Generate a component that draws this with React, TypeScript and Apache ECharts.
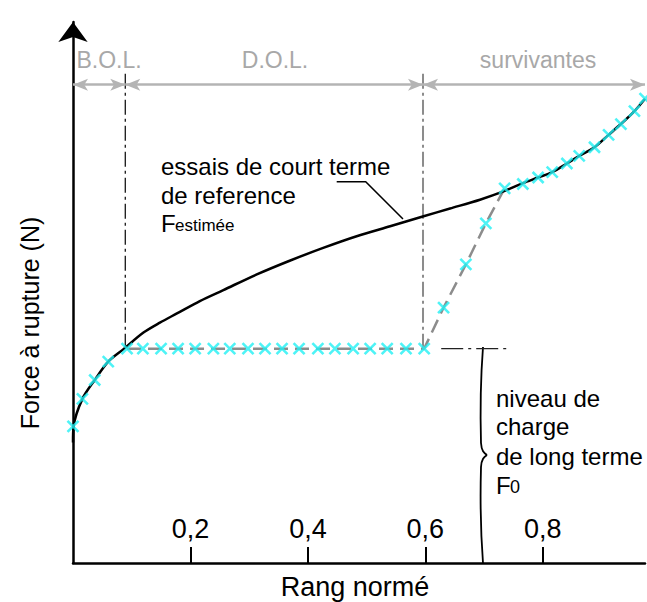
import React, { useEffect, useRef } from "react";
import * as echarts from "echarts";

// ---- data (x: rang normé, y: force, arbitrary units 0..100) ----
const xTickValues = [0.2, 0.4, 0.6, 0.8];

const refCurveX = [0, 0.001, 0.016, 0.037, 0.06, 0.087, 0.12, 0.148, 0.177, 0.216, 0.256, 0.313, 0.37, 0.426, 0.483, 0.54, 0.597, 0.642, 0.693, 0.733, 0.766, 0.792, 0.816, 0.841, 0.862, 0.888, 0.912, 0.933, 0.956, 0.974];
const refCurveY = [22.3, 25.3, 30.4, 33.9, 37.3, 39.7, 42.68, 44.52, 46.22, 48.52, 50.55, 53.45, 56.03, 58.36, 60.52, 62.36, 64.21, 65.65, 67.29, 68.82, 70.35, 71.4, 72.4, 74.0, 75.4, 77.0, 79.3, 81.3, 83.7, 86.0];

const bolX = [0.0, 0.016, 0.037, 0.06];
const bolY = [25.3, 30.4, 33.9, 37.3];

const dolX = [0.092, 0.119, 0.15, 0.179, 0.208, 0.239, 0.267, 0.298, 0.327, 0.356, 0.385, 0.417, 0.446, 0.477, 0.506, 0.535, 0.567, 0.598];
const dolY = [39.7, 39.7, 39.7, 39.7, 39.7, 39.7, 39.7, 39.7, 39.7, 39.7, 39.7, 39.7, 39.7, 39.7, 39.7, 39.7, 39.7, 39.7];

const riseX = [0.631, 0.669, 0.703, 0.735];
const riseY = [47.3, 55.3, 62.9, 69.4];

const survX = [0.766, 0.792, 0.816, 0.841, 0.862, 0.888, 0.912, 0.933, 0.956, 0.974];
const survY = [70.2, 71.4, 72.4, 74.0, 75.4, 77.0, 79.3, 81.3, 83.7, 86.0];

const zoneBounds = [0, 0.089, 0.596, 0.974];
const zoneNames = ["B.O.L.", "D.O.L.", "survivantes"];
const f0Level = 39.7;
const zoneLineTop = 90.6;
const dimLevel = 88.6;
const f0MarkX = [0.627, 0.746];

const FONT = "Liberation Sans, Arial, Helvetica, sans-serif";
const CYAN = "#22f0f4";
const GREY_DIM = "#b4b4b4";
const GREY_DASH = "#8c8c8c";

const zip = (xs: number[], ys: number[]) => xs.map((x, i) => [x, ys[i]]);

function txt(text: string, x: number, y: number, size: number, fill = "#000", align = "left", extra: any = {}) {
  return {
    type: "text",
    x,
    y,
    silent: true,
    ...extra,
    style: {
      text,
      fill,
      fontSize: size,
      fontFamily: FONT,
      align,
      textAlign: align,
      verticalAlign: "middle",
      textVerticalAlign: "middle",
    },
  };
}

function bez(x1: number, y1: number, c1x: number, c1y: number, c2x: number, c2y: number, x2: number, y2: number) {
  return {
    type: "bezierCurve",
    silent: true,
    shape: { x1, y1, cpx1: c1x, cpy1: c1y, cpx2: c2x, cpy2: c2y, x2, y2 },
    style: { stroke: "#000", lineWidth: 1.8, fill: "none" },
  };
}

function buildOption(): any {
  const markers = [...zip(bolX, bolY), ...zip(dolX, dolY), ...zip(riseX, riseY), ...zip(survX, survY)];
  const dimData = zoneNames.map((_, i) => [
    { coord: [zoneBounds[i], dimLevel] },
    { coord: [zoneBounds[i + 1], dimLevel] },
  ]);
  const zoneLabelX = [109, 275, 538];

  return {
    animation: false,
    grid: { left: 73, right: 2, top: 22, bottom: 39 },
    xAxis: {
      type: "value",
      min: 0,
      max: 0.974,
      interval: 0.2,
      axisLine: { show: true, onZero: false, lineStyle: { color: "#000", width: 2.5 } },
      axisTick: { show: true, inside: true, length: 16, customValues: xTickValues, lineStyle: { color: "#000", width: 2 } },
      axisLabel: {
        show: true,
        inside: true,
        margin: 21,
        customValues: xTickValues,
        fontSize: 27,
        fontFamily: FONT,
        color: "#000",
        formatter: (v: number) => v.toFixed(1).replace(".", ","),
      },
      splitLine: { show: false },
    },
    yAxis: {
      type: "value",
      min: 0,
      max: 100.2,
      axisLine: {
        show: true,
        onZero: false,
        symbol: ["none", "arrow"],
        symbolSize: [22, 20],
        lineStyle: { color: "#000", width: 2.5 },
      },
      axisTick: { show: false },
      axisLabel: { show: false },
      splitLine: { show: false },
    },
    series: [
      {
        type: "line",
        data: zip(dolX.concat(riseX), dolY.concat(riseY)),
        symbol: "none",
        lineStyle: { color: GREY_DASH, width: 2.5, type: [14, 7] },
        z: 2,
        silent: true,
      },
      {
        type: "line",
        data: zip(refCurveX, refCurveY),
        smooth: 0.3,
        symbol: "none",
        lineStyle: { color: "#000", width: 2.5 },
        z: 3,
        silent: true,
      },
      {
        type: "line",
        data: [
          [zoneBounds[1], f0Level],
          [zoneBounds[1], zoneLineTop],
        ],
        symbol: "none",
        lineStyle: { color: "#000", width: 1.2, type: [15, 4, 3, 4] },
        z: 1,
        silent: true,
        markLine: {
          silent: true,
          symbol: ["arrow", "arrow"],
          symbolSize: [9, 15],
          label: { show: false },
          lineStyle: { color: GREY_DIM, width: 2.5, type: "solid" },
          emphasis: { disabled: true },
          data: dimData,
        },
      },
      {
        type: "line",
        data: [
          [zoneBounds[2], f0Level],
          [zoneBounds[2], zoneLineTop],
        ],
        symbol: "none",
        lineStyle: { color: GREY_DASH, width: 2, type: [15, 4, 3, 4] },
        z: 1,
        silent: true,
      },
      {
        type: "line",
        data: [
          [f0MarkX[0], f0Level],
          [f0MarkX[1], f0Level],
        ],
        symbol: "none",
        lineStyle: { color: "#222", width: 1.2, type: [22, 5, 3, 5] },
        z: 1,
        silent: true,
      },
      {
        type: "scatter",
        data: markers,
        symbol: "path://M0 0L10 10M10 0L0 10",
        symbolSize: 11,
        clip: false,
        itemStyle: { color: CYAN, borderColor: CYAN, borderWidth: 2.6 },
        z: 5,
        silent: true,
      },
    ],
    graphic: [
      ...zoneNames.map((n, i) => txt(n, zoneLabelX[i], 60, 23, "#a8a8a8", "center")),
      txt("essais de court terme", 161, 166.6, 24),
      txt("de reference", 161, 195, 24),
      txt("F", 161, 223.3, 24),
      txt("estimée", 175, 225.7, 17),
      {
        type: "polyline",
        silent: true,
        shape: { points: [[336.7, 181.7], [365.7, 181.7], [403, 219]] },
        style: { stroke: "#000", lineWidth: 1.5, fill: "none" },
      },
      bez(483, 347, 480.5, 380, 480.5, 425, 481, 443),
      bez(481, 443, 481.5, 451, 484, 453, 487, 455),
      bez(487, 455, 484, 457, 481.5, 459, 481, 467),
      bez(481, 467, 480.5, 485, 480.5, 530, 483, 563),
      txt("niveau de", 496, 398.3, 24),
      txt("charge", 496, 426.6, 24),
      txt("de long terme", 496, 456.6, 24),
      txt("F", 496, 485, 24),
      txt("0", 510, 487, 18),
      txt("Rang normé", 355, 587, 27, "#000", "center"),
      txt("Force à rupture (N)", 30, 323, 25, "#000", "center", { rotation: Math.PI / 2 }),
    ],
  };
}

export default function App() {
  const ref = useRef<HTMLDivElement>(null);
  useEffect(() => {
    if (!ref.current) return;
    const chart = echarts.init(ref.current, undefined, { renderer: "svg" });
    chart.setOption(buildOption());
    return () => chart.dispose();
  }, []);
  return (
    <div
      ref={ref}
      style={{ position: "fixed", left: 0, top: 0, width: 647, height: 602, background: "#fff" }}
    />
  );
}
